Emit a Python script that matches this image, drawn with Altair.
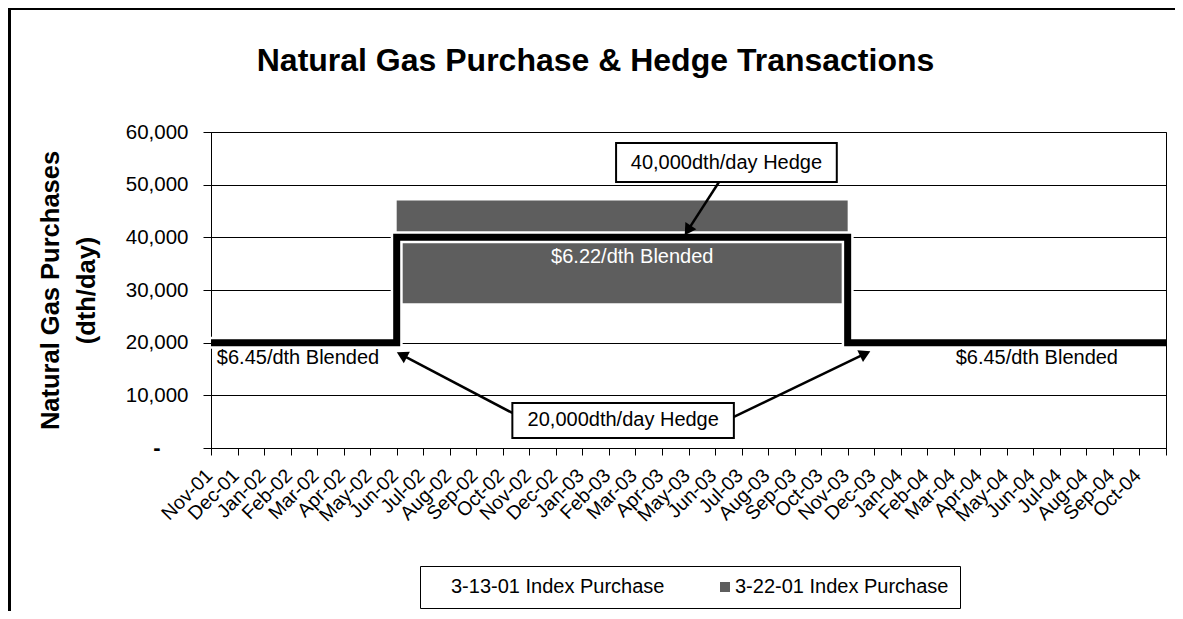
import math
import altair as alt
import pandas as pd

FONT = "Liberation Sans, Arial, Helvetica, sans-serif"
GRAY = "#5e5e5e"
W, H = 955, 316

# ---------------- data ----------------
months = ["Nov-01", "Dec-01", "Jan-02", "Feb-02", "Mar-02", "Apr-02", "May-02",
          "Jun-02", "Jul-02", "Aug-02", "Sep-02", "Oct-02", "Nov-02", "Dec-02",
          "Jan-03", "Feb-03", "Mar-03", "Apr-03", "May-03", "Jun-03", "Jul-03",
          "Aug-03", "Sep-03", "Oct-03", "Nov-03", "Dec-03", "Jan-04", "Feb-04",
          "Mar-04", "Apr-04", "May-04", "Jun-04", "Jul-04", "Aug-04", "Sep-04",
          "Oct-04"]

# 3-13-01 Index Purchase (dth/day)
purchase_0313 = [20000, 20000, 20000, 20000, 20000, 20000, 20000,
                 40000, 40000, 40000, 40000, 40000, 40000, 40000,
                 40000, 40000, 40000, 40000, 40000, 40000, 40000,
                 40000, 40000, 40000, 20000, 20000, 20000, 20000,
                 20000, 20000, 20000, 20000, 20000, 20000, 20000,
                 20000]

# 3-22-01 Index Purchase band (low / high, dth/day)
purchase_0322_low = [None, None, None, None, None, None, None,
                     27500, 27500, 27500, 27500, 27500, 27500, 27500,
                     27500, 27500, 27500, 27500, 27500, 27500, 27500,
                     27500, 27500, 27500, None, None, None, None,
                     None, None, None, None, None, None, None,
                     None]
purchase_0322_high = [None, None, None, None, None, None, None,
                      47000, 47000, 47000, 47000, 47000, 47000, 47000,
                      47000, 47000, 47000, 47000, 47000, 47000, 47000,
                      47000, 47000, 47000, None, None, None, None,
                      None, None, None, None, None, None, None,
                      None]

y_ticks = [0, 10000, 20000, 30000, 40000, 50000, 60000]
S1 = "3-13-01 Index Purchase"
S2 = "3-22-01 Index Purchase"

# ---------------- tables ----------------
n = len(months)
line_df = pd.DataFrame({
    "x": list(range(n)) + [n],
    "y": purchase_0313 + [purchase_0313[-1]],
})

runs = []
i = 0
while i < n:
    if purchase_0322_low[i] is None:
        i += 1
        continue
    j = i
    while j + 1 < n and purchase_0322_low[j + 1] == purchase_0322_low[i] \
            and purchase_0322_high[j + 1] == purchase_0322_high[i]:
        j += 1
    runs.append({"x": i, "x2": j + 1, "y": purchase_0322_low[i],
                 "y2": purchase_0322_high[i], "series": S2})
    i = j + 1
rect_df = pd.DataFrame(runs)

# annotation placement (data units: month index, dth/day)
boxes = pd.DataFrame([
    {"x": 15.27, "x2": 23.59, "y": 50500, "y2": 57900},
    {"x": 11.36, "x2": 19.71, "y": 1900, "y2": 8540},
])
labels = pd.DataFrame([
    {"x": 19.43, "y": 54200, "t": "40,000dth/day Hedge", "c": "black", "a": "center"},
    {"x": 15.54, "y": 5250, "t": "20,000dth/day Hedge", "c": "black", "a": "center"},
    {"x": 0.22, "y": 17000, "t": "$6.45/dth Blended", "c": "black", "a": "left"},
    {"x": 28.07, "y": 17000, "t": "$6.45/dth Blended", "c": "black", "a": "left"},
    {"x": 15.88, "y": 36300, "t": "$6.22/dth Blended", "c": "white", "a": "center"},
])
arrows = [((19.15, 50500), (17.83, 40200)),
          ((11.36, 6650), (6.96, 18300)),
          ((19.71, 5890), (24.90, 18500))]

pxx = W / n
pxy = H / 60000.0
HEAD = 7
seg_rows, head_rows = [], []
for (x1, y1), (x2, y2) in arrows:
    dxp = (x2 - x1) * pxx
    dyp = -(y2 - y1) * pxy
    L = math.hypot(dxp, dyp)
    ux, uy = dxp / L, dyp / L
    cx = x2 - ux * HEAD / pxx
    cy = y2 + uy * HEAD / pxy
    ang = math.degrees(math.atan2(dxp, -dyp)) % 360
    seg_rows.append({"x": x1, "y": y1, "x2": cx, "y2": cy})
    head_rows.append({"x": cx, "y": cy, "ang": ang})
seg_df = pd.DataFrame(seg_rows)
head_df = pd.DataFrame(head_rows)
zero_df = pd.DataFrame([{"x": 0, "y": 0, "t": "-"}])

# ---------------- encodings ----------------
xscale = alt.Scale(domain=[0, n], nice=False, zero=False)
yscale = alt.Scale(domain=[0, 60000], nice=False)
label_arr = "[" + ",".join("'%s'" % m for m in months) + "]"
xaxis = alt.Axis(values=list(range(n + 1)), grid=False, title=None,
                 labelExpr=label_arr + "[datum.value] || ''",
                 labelAngle=315, labelAlign="right", labelBaseline="middle",
                 labelOffset=-2, labelPadding=17, tickSize=7, labelFontSize=19.5,
                 labelFont=FONT, labelColor="black", domainColor="black",
                 tickColor="black", labelOverlap=False, labelFlush=False)
yaxis = alt.Axis(values=y_ticks, grid=True, gridColor="black", gridWidth=1,
                 title=["Natural Gas Purchases", "(dth/day)"],
                 titleFont=FONT, titleFontSize=25.5, titleFontWeight="bold",
                 titleColor="black", titleLineHeight=36, titlePadding=26,
                 labelExpr="datum.value == 0 ? '' : format(datum.value, ',')",
                 labelFont=FONT, labelFontSize=20.5, labelColor="black",
                 labelPadding=15, tickSize=8, tickColor="black",
                 domainColor="black")


def X(f="x"):
    return alt.X(f + ":Q", scale=xscale, axis=xaxis)


def Y(f="y"):
    return alt.Y(f + ":Q", scale=yscale, axis=yaxis)


gray = alt.Chart(rect_df).mark_rect(strokeWidth=0).encode(
    x=X(), x2="x2:Q", y=Y(), y2="y2:Q",
    fill=alt.Fill("series:N",
                  scale=alt.Scale(domain=[S1, S2], range=["white", GRAY]),
                  legend=alt.Legend(title=None, orient="none", legendX=209,
                                    legendY=434, direction="horizontal",
                                    strokeColor="black", padding=11,
                                    symbolType="square", symbolSize=100,
                                    symbolStrokeWidth=0, labelFont=FONT,
                                    labelFontSize=20, labelColor="black",
                                    labelOffset=0, columnPadding=50,
                                    labelLimit=400)),
)

halo = alt.Chart(line_df).mark_line(interpolate="step-after", color="white",
                                    strokeWidth=12).encode(x=X(), y=Y())
line = alt.Chart(line_df).mark_line(interpolate="step-after", color="black",
                                    strokeWidth=7, strokeCap="butt").encode(x=X(), y=Y())

segs = alt.Chart(seg_df).mark_rule(color="black", strokeWidth=2.5).encode(
    x=X(), y=Y(), x2="x2:Q", y2="y2:Q")
heads = alt.Chart(head_df).mark_point(shape="triangle-up", filled=True,
                                      color="black", size=170, opacity=1).encode(
    x=X(), y=Y(), angle=alt.Angle("ang:Q", scale=None))

box = alt.Chart(boxes).mark_rect(fill="white", stroke="black", strokeWidth=2).encode(
    x=X(), x2="x2:Q", y=Y(), y2="y2:Q")

txt_center = alt.Chart(labels[labels.a == "center"]).mark_text(
    font=FONT, fontSize=20, baseline="middle", align="center").encode(
    x=X(), y=Y(), text="t:N", color=alt.Color("c:N", scale=None))
txt_left = alt.Chart(labels[labels.a == "left"]).mark_text(
    font=FONT, fontSize=20, baseline="middle", align="left").encode(
    x=X(), y=Y(), text="t:N", color=alt.Color("c:N", scale=None))

zero_lbl = alt.Chart(zero_df).mark_text(
    font=FONT, fontSize=22, fontWeight="bold", baseline="middle",
    align="center", dx=-54, color="black").encode(x=X(), y=Y(), text="t:N")

frame_top = alt.Chart(line_df).mark_rule(color="black", strokeWidth=1.5).encode(
    x=alt.value(-203), x2=alt.value(W + 9), y=alt.value(-123.5))
frame_left = alt.Chart(line_df).mark_rule(color="black", strokeWidth=1.5).encode(
    x=alt.value(-201.5), y=alt.value(-124), y2=alt.value(H + 163))

chart = alt.layer(gray, halo, line, segs, heads, box, txt_center, txt_left,
                  zero_lbl, frame_top, frame_left).properties(
    width=W, height=H,
    background="white",
    autosize=alt.AutoSizeParams(type="none"),
    padding={"left": 203, "top": 124, "right": 9, "bottom": 163},
    title=alt.TitleParams(
        text="Natural Gas Purchase & Hedge Transactions",
        font=FONT, fontSize=32, fontWeight="bold", color="black",
        anchor="middle", frame="group", dx=-93, offset=-96,
        baseline="alphabetic"),
).configure_view(stroke="black", strokeWidth=1)

chart.save("out.html", embed_options={"renderer": "svg", "actions": False})
